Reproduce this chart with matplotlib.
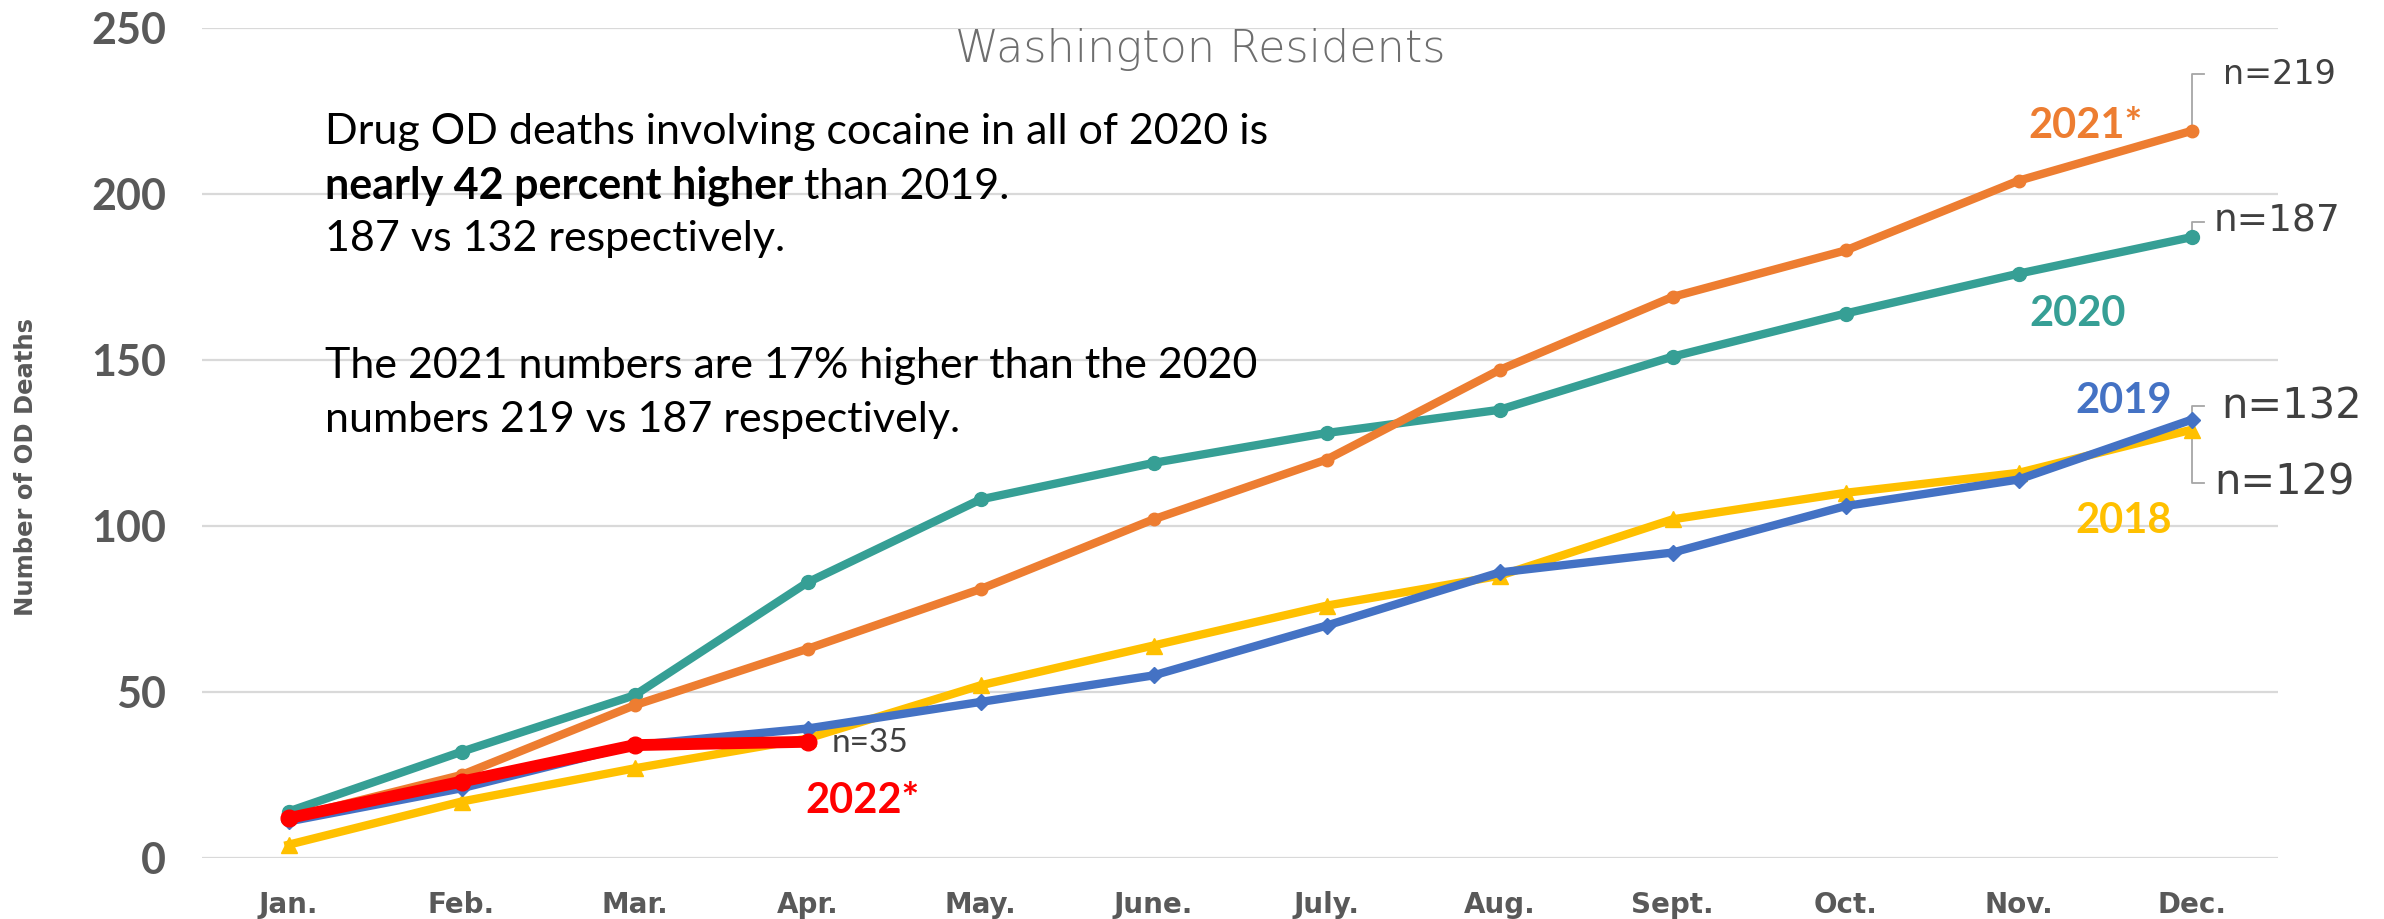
import matplotlib
matplotlib.use("Agg")
import matplotlib.pyplot as plt

months = ['Jan.', 'Feb.', 'Mar.', 'Apr.', 'May.', 'June.', 'July.', 'Aug.',
          'Sept.', 'Oct.', 'Nov.', 'Dec.']
y2018 = [4, 17, 27, 36, 52, 64, 76, 85, 102, 110, 116, 129]
y2019 = [11, 21, 34, 39, 47, 55, 70, 86, 92, 106, 114, 132]
y2020 = [14, 32, 49, 83, 108, 119, 128, 135, 151, 164, 176, 187]
y2021 = [12, 25, 46, 63, 81, 102, 120, 147, 169, 183, 204, 219]
y2022 = [12, 23, 34, 35]
yticks = [0, 50, 100, 150, 200, 250]

C18, C19, C20, C21, C22 = '#FFC000', '#4472C4', '#369F95', '#ED7D31', '#FF0000'
W, H = 2384, 919
fig = plt.figure(figsize=(W / 100, H / 100), dpi=100)
ax = fig.add_axes([202 / W, 1 - 858 / H, (2278 - 202) / W, (858 - 28) / H])

x = list(range(len(months)))
ax.plot(x, y2018, color=C18, lw=6, marker='^', ms=11, zorder=3)
ax.plot(x, y2019, color=C19, lw=6, marker='D', ms=8, zorder=4)
ax.plot(x, y2020, color=C20, lw=6, marker='o', ms=10, zorder=5)
ax.plot(x, y2021, color=C21, lw=6, marker='o', ms=9, zorder=6)
ax.plot(x[:len(y2022)], y2022, color=C22, lw=8.5, marker='o', ms=12, zorder=7)

ax.set_xlim(-0.5, 11.5)
ax.set_ylim(0, 250)
ax.set_yticks(yticks)
ax.set_xticks(x)
ax.set_xticklabels(months)
ax.grid(axis='y', color='#D9D9D9', lw=1.6)
ax.set_axisbelow(True)
for s in ax.spines.values():
    s.set_visible(False)
ax.tick_params(length=0)
ax.tick_params(axis='y', pad=26, labelsize=31, labelcolor='#595959')
ax.tick_params(axis='x', pad=24, labelsize=20, labelcolor='#595959')
for lab in ax.get_yticklabels():
    lab.set_fontfamily('Lato')
    lab.set_fontweight('bold')
for lab in ax.get_xticklabels():
    lab.set_fontfamily('DejaVu Sans')
    lab.set_fontweight('bold')

fig.text(26 / W, 1 - 467 / H, 'Number of OD Deaths', rotation=90, ha='center',
         va='center', fontsize=17.5, fontweight='bold', color='#595959',
         family='DejaVu Sans')

ax.text(5.27, 243.4, 'Washington Residents', ha='center', va='center',
        fontsize=32, color='#6E6E6E', family='DejaVu Sans', fontweight='light')

tf = dict(family='Lato', fontsize=31, color='black')
ax.text(0.21, 218.7, 'Drug OD deaths involving cocaine in all of 2020 is',
        va='center', **tf)
t1 = ax.text(0.21, 202.6, 'nearly 42 percent higher', va='center',
             fontweight='bold', **tf)
ax.annotate(' than 2019.', xy=(1, 0), xycoords=t1, va='bottom', ha='left', **tf)
ax.text(0.21, 186.4, '187 vs 132 respectively.', va='center', **tf)
ax.text(0.21, 148.2, 'The 2021 numbers are 17% higher than the 2020',
        va='center', **tf)
ax.text(0.21, 131.9, 'numbers 219 vs 187 respectively.', va='center', **tf)

# year labels
yl = dict(family='Lato', fontweight='bold', fontsize=30, ha='center', va='center')
ax.text(10.39, 220.5, '2021*', color=C21, **yl)
ax.text(10.34, 164, '2020', color=C20, **yl)
ax.text(10.61, 137.6, '2019', color=C19, **yl)
ax.text(10.61, 101.5, '2018', color=C18, **yl)
ax.text(3.32, 17.2, '2022*', color=C22, **yl)

# n= labels with leader lines
lead = dict(color='#A6A6A6', lw=1.3, zorder=2)
nl = dict(family='DejaVu Sans', color='#404040', va='center', ha='left')
last = len(months) - 1
for vals, ylab, xt, sz in [(y2021, 236.0, 11.18, 24), (y2020, 191.6, 11.13, 27),
                           (y2019, 136.0, 11.17, 30), (y2018, 113.0, 11.13, 30)]:
    ax.plot([last, last, last + 0.075], [vals[-1], ylab, ylab], **lead)
    ax.text(xt, ylab, 'n=%d' % vals[-1], fontsize=sz, **nl)
ax.text(3.14, 34.6, 'n=%d' % y2022[-1], fontsize=24, family='Lato',
        color='#404040', va='center', ha='left')

fig.savefig('out.png', dpi=100)
